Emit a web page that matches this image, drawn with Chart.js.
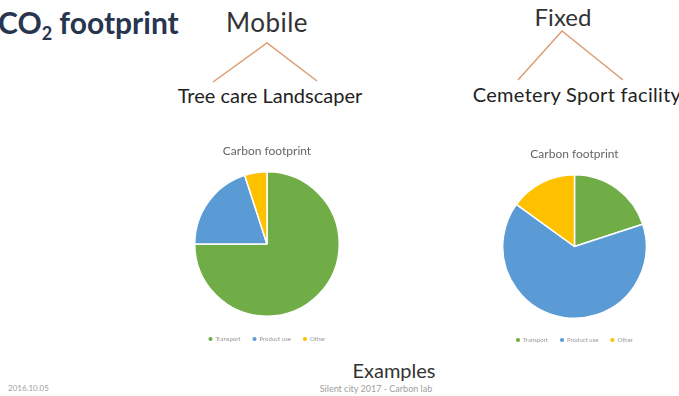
<!DOCTYPE html>
<html>
<head>
<meta charset="utf-8">
<script src="https://cdn.jsdelivr.net/npm/chart.js@4.4.1/dist/chart.umd.min.js"></script>
<style>
  html, body { margin: 0; padding: 0; background: #fff; }
  body { width: 679px; height: 396px; position: relative; overflow: hidden; font-family: Lato, sans-serif; }
  .txt { position: absolute; white-space: nowrap; line-height: 1; }
  .ctr { transform: translateX(-50%); }
  .box { position: absolute; }
  svg { position: absolute; left: 0; top: 0; }
</style>
</head>
<body>

<div class="txt" style="left:-2px; top:7px; font-size:30px; font-weight:bold; color:#28354f;">CO<sub style="font-size:18px; vertical-align:-6px;">2</sub> footprint</div>

<div class="txt ctr" style="left:267px; top:9px; font-size:26px; letter-spacing:0.5px; color:#333;">Mobile</div>
<div class="txt ctr" style="left:270px; top:85px; font-size:20px; color:#222;">Tree care Landscaper</div>

<div class="txt ctr" style="left:563px; top:5px; font-size:24px; color:#333;">Fixed</div>
<div class="txt ctr" style="left:577px; top:84px; font-size:20px; letter-spacing:0.3px; color:#222;">Cemetery Sport facility</div>

<svg width="679" height="396">
  <polyline points="213,82 267,43 317,81" fill="none" stroke="#dc9c72" stroke-width="1.5"/>
  <polyline points="518,80 562,31 623,80" fill="none" stroke="#dc9c72" stroke-width="1.5"/>
</svg>

<div class="box" style="left:194px; top:135px; width:146px; height:217px;"><canvas id="mobile"></canvas></div>
<div class="box" style="left:502px; top:138px; width:145px; height:215px;"><canvas id="fixed"></canvas></div>

<div class="txt ctr" style="left:394px; top:360px; font-size:20px; color:#333;">Examples</div>
<div class="txt" style="left:8px; top:384px; font-size:8px; color:#a0a0a0;">2016.10.05</div>
<div class="txt ctr" style="left:376px; top:384px; font-size:9px; color:#a0a0a0;">Silent city 2017 - Carbon lab</div>

<script>
const SLICE_LABELS = ["Transport", "Product use", "Other"];
const SLICE_COLORS = ["#70ad47", "#5b9bd5", "#ffc000"];

// (percent of footprint)
const MOBILE_VALUES = [75, 20, 5];
const FIXED_VALUES = [20, 65, 15];

const CHART_TITLE = "Carbon footprint";

function make_pie(id, values, titleBottom) {
  new Chart(document.getElementById(id), {
    type: "pie",
    data: {
      labels: SLICE_LABELS,
      datasets: [
        {
          data: values,
          backgroundColor: SLICE_COLORS,
          borderColor: "#ffffff",
          borderWidth: 1.5,
        },
      ],
    },
    options: {
      responsive: true,
      maintainAspectRatio: false,
      animation: false,
      plugins: {
        title: {
          display: true,
          text: CHART_TITLE,
          color: "#666",
          font: { family: "Lato", size: 12, weight: "normal" },
          padding: { top: 8.8, bottom: titleBottom },
        },
        legend: {
          position: "bottom",
          labels: {
            usePointStyle: true,
            pointStyle: "circle",
            boxWidth: 4,
            boxHeight: 4,
            padding: 12,
            color: "#999",
            font: { family: "Lato", size: 6 },
          },
        },
        tooltip: { enabled: false },
      },
    },
  });
}

make_pie("mobile", MOBILE_VALUES, 5.8);
make_pie("fixed", FIXED_VALUES, 6.8);
</script>
</body>
</html>
